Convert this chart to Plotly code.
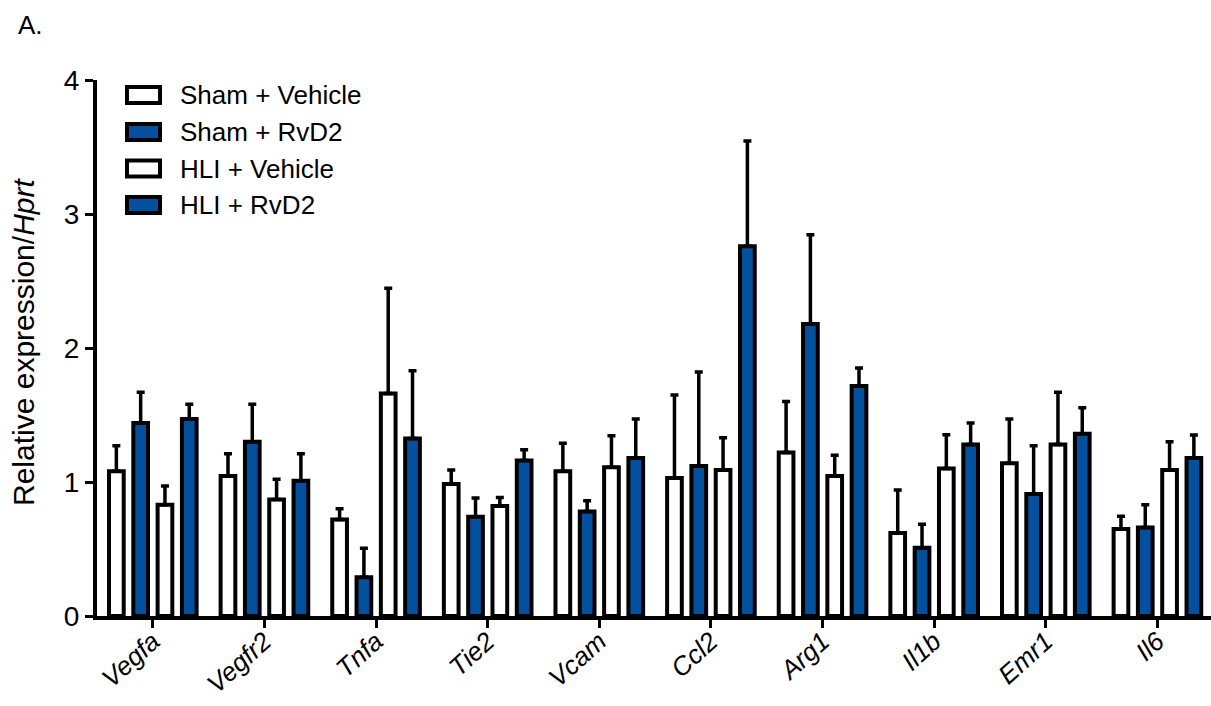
import plotly.graph_objects as go

genes = ["Vegfa", "Vegfr2", "Tnfa", "Tie2", "Vcam", "Ccl2", "Arg1", "Il1b", "Emr1", "Il6"]
series_names = ["Sham + Vehicle", "Sham + RvD2", "HLI + Vehicle", "HLI + RvD2"]

sham_vehicle = [1.08, 1.045, 0.72, 0.985, 1.08, 1.03, 1.22, 0.62, 1.14, 0.65]
sham_rvd2 = [1.44, 1.30, 0.29, 0.74, 0.78, 1.12, 2.18, 0.51, 0.91, 0.66]
hli_vehicle = [0.83, 0.87, 1.66, 0.82, 1.11, 1.09, 1.045, 1.10, 1.28, 1.09]
hli_rvd2 = [1.47, 1.01, 1.325, 1.16, 1.18, 2.76, 1.716, 1.28, 1.36, 1.18]

# tops of the (upward-only) error bars
sham_vehicle_top = [1.27, 1.21, 0.80, 1.09, 1.29, 1.65, 1.60, 0.94, 1.47, 0.744]
sham_rvd2_top = [1.67, 1.58, 0.505, 0.88, 0.86, 1.82, 2.845, 0.684, 1.27, 0.83]
hli_vehicle_top = [0.97, 1.02, 2.445, 0.885, 1.345, 1.33, 1.20, 1.353, 1.67, 1.30]
hli_rvd2_top = [1.58, 1.21, 1.83, 1.24, 1.47, 3.545, 1.85, 1.44, 1.555, 1.35]

y_ticks = [0, 1, 2, 3, 4]

BLUE = "#02509e"
fills = ["white", BLUE, "white", BLUE]
values = [sham_vehicle, sham_rvd2, hli_vehicle, hli_rvd2]
tops = [sham_vehicle_top, sham_rvd2_top, hli_vehicle_top, hli_rvd2_top]

W, H = 1211, 706
L, R, T, B = 97, 0, 80, 90
PW, PH = W - L - R, H - T - B
FONT = "Arial, 'Liberation Sans', Helvetica, sans-serif"


def px2x(px):
    return (px - L) / PW


def px2y(py):
    return (H - B - py) / PH


fig = go.Figure()
for name, vals, tp, fc in zip(series_names, values, tops, fills):
    fig.add_trace(go.Bar(
        x=genes, y=vals, name=name,
        marker=dict(color=fc, line=dict(color="black", width=4)),
        error_y=dict(type="data", symmetric=False,
                     array=[t - v for t, v in zip(tp, vals)],
                     arrayminus=[0] * len(vals),
                     color="black", thickness=3.5, width=4),
        showlegend=False,
    ))

shapes = []
annotations = []
row_y = [95, 132, 168.5, 205]
for name, fc, yc in zip(series_names, fills, row_y):
    shapes.append(dict(type="rect", xref="paper", yref="paper",
                       x0=px2x(127), x1=px2x(160), y0=px2y(yc - 8), y1=px2y(yc + 8),
                       fillcolor=fc, line=dict(color="black", width=4), layer="above"))
    annotations.append(dict(text=name, xref="paper", yref="paper", x=px2x(178), y=px2y(yc),
                            xanchor="left", yanchor="middle", showarrow=False,
                            font=dict(size=26, color="black", family=FONT)))

annotations.append(dict(text="A.", xref="paper", yref="paper", x=px2x(16), y=px2y(25),
                        xanchor="left", yanchor="middle", showarrow=False,
                        font=dict(size=26, color="black", family=FONT)))
annotations.append(dict(text="Relative expression/<i>Hprt</i>", xref="paper", yref="paper",
                        x=px2x(23), y=px2y(342), xanchor="center", yanchor="middle",
                        textangle=-90, showarrow=False,
                        font=dict(size=30, color="black", family=FONT)))

fig.update_layout(
    width=W, height=H,
    margin=dict(l=L, r=R, t=T, b=B, autoexpand=False),
    paper_bgcolor="white", plot_bgcolor="white",
    barmode="group", bargap=0.129, bargroupgap=0.395,
    font=dict(family=FONT, size=26, color="black"),
    shapes=shapes, annotations=annotations,
    xaxis=dict(range=[-0.5, 9.48], showline=True, linecolor="black", linewidth=4,
               ticks="outside", ticklen=8, tickwidth=3, tickcolor="black",
               tickangle=-42, tickfont=dict(size=26, style="italic", family=FONT),
               ticklabelstandoff=-12,
               showgrid=False, zeroline=False, automargin=False),
    yaxis=dict(range=[0, 4], tickvals=y_ticks, showline=True, linecolor="black", linewidth=4,
               ticks="outside", ticklen=8, tickwidth=3, tickcolor="black",
               tickfont=dict(size=28, family=FONT),
               showgrid=False, zeroline=False, automargin=False),
)

fig.write_html("out.html")
